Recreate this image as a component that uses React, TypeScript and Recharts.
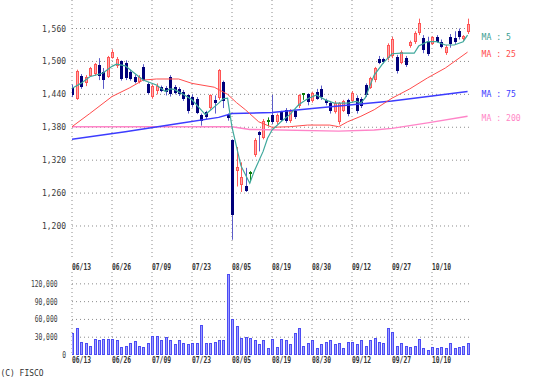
// Daily candles with moving averages (5/25/75/200) and a volume panel underneath.

import { Bar, CartesianGrid, ComposedChart, Line, XAxis, YAxis } from "recharts";

const DATES = ["06/13", "06/26", "07/09", "07/23", "08/05", "08/19", "08/30", "09/12", "09/27", "10/10"];
const DATE_IDX = [0, 9, 18, 27, 36, 45, 54, 63, 72, 81];

const OPEN = [
  1452, 1432, 1474, 1461, 1474, 1477, 1493, 1480, 1472, 1507,
  1491, 1500, 1498, 1481, 1472, 1462, 1490, 1459, 1436, 1446,
  1453, 1452, 1472, 1454, 1450, 1444, 1438, 1436, 1432, 1402,
  1408, 1416, 1430, 1434, 1462, 1403, 1357, 1300, 1275, 1272,
  1296, 1330, 1372, 1360, 1392, 1402, 1390, 1408, 1412, 1392,
  1410, 1418, 1440, 1440, 1428, 1445, 1450, 1430, 1424, 1408,
  1390, 1410, 1430, 1428, 1434, 1432, 1457, 1452, 1466, 1505,
  1504, 1506, 1510, 1508, 1498, 1506, 1528, 1535, 1552, 1542,
  1538, 1532, 1545, 1536, 1516, 1544, 1542, 1556, 1540, 1554,
];
const HIGH = [
  1458, 1485, 1477, 1475, 1490, 1497, 1506, 1488, 1510, 1522,
  1508, 1502, 1502, 1485, 1476, 1475, 1495, 1462, 1458, 1460,
  1456, 1455, 1475, 1457, 1453, 1448, 1440, 1440, 1435, 1405,
  1410, 1440, 1438, 1486, 1465, 1405, 1358, 1344, 1316, 1306,
  1300, 1360, 1373, 1395, 1398, 1439, 1405, 1410, 1415, 1413,
  1412, 1440, 1442, 1442, 1445, 1450, 1456, 1432, 1428, 1428,
  1426, 1430, 1432, 1446, 1438, 1435, 1460, 1472, 1490, 1510,
  1507, 1533, 1545, 1512, 1520, 1510, 1538, 1555, 1578, 1548,
  1545, 1546, 1548, 1540, 1530, 1550, 1555, 1560, 1548, 1578,
];
const LOW = [
  1435, 1430, 1450, 1455, 1472, 1474, 1466, 1450, 1470, 1505,
  1488, 1465, 1466, 1465, 1460, 1460, 1464, 1440, 1432, 1440,
  1444, 1438, 1436, 1440, 1437, 1428, 1405, 1416, 1404, 1383,
  1395, 1412, 1405, 1430, 1415, 1392, 1175, 1272, 1262, 1262,
  1280, 1326, 1336, 1358, 1382, 1386, 1385, 1390, 1388, 1388,
  1395, 1415, 1430, 1420, 1425, 1430, 1430, 1420, 1405, 1405,
  1385, 1408, 1400, 1425, 1405, 1415, 1435, 1450, 1462, 1495,
  1496, 1502, 1506, 1478, 1495, 1490, 1525, 1532, 1548, 1515,
  1510, 1530, 1534, 1524, 1512, 1525, 1532, 1540, 1538, 1550,
];
const CLOSE = [
  1438, 1483, 1454, 1472, 1488, 1495, 1474, 1466, 1508, 1518,
  1505, 1468, 1470, 1468, 1462, 1472, 1466, 1443, 1456, 1455,
  1446, 1444, 1440, 1443, 1440, 1432, 1410, 1420, 1406, 1391,
  1398, 1438, 1425, 1484, 1428, 1397, 1220, 1308, 1290, 1263,
  1296, 1356, 1366, 1392, 1392, 1390, 1402, 1394, 1392, 1410,
  1398, 1438, 1440, 1426, 1442, 1432, 1436, 1425, 1410, 1425,
  1424, 1428, 1405, 1443, 1410, 1418, 1438, 1470, 1488, 1498,
  1499, 1530, 1540, 1482, 1518, 1494, 1536, 1552, 1570, 1520,
  1514, 1544, 1536, 1526, 1527, 1532, 1535, 1544, 1546, 1568,
];
// thousand shares
const VOLUME = [
  37, 45, 22, 21, 15, 27, 26, 27, 27, 27,
  26, 14, 15, 20, 23, 15, 13, 21, 32, 32,
  26, 31, 26, 18, 25, 20, 19, 21, 21, 50,
  20, 21, 22, 26, 26, 136, 61, 49, 29, 30,
  29, 25, 18, 26, 12, 27, 14, 27, 26, 18,
  37, 45, 15, 21, 26, 12, 19, 22, 26, 18,
  21, 12, 22, 22, 18, 25, 15, 26, 28, 22,
  20, 45, 39, 16, 21, 16, 14, 16, 27, 11,
  9, 13, 11, 13, 11, 20, 11, 14, 15, 21,
];

// moving averages as [day, price]
const MA5 = [
  [0, 1451], [2, 1460], [4, 1472], [7, 1479], [9, 1491], [10, 1495], [12, 1492], [14, 1479],
  [16, 1466], [19, 1457], [21, 1445], [22, 1450], [23, 1449], [25, 1440], [27, 1430], [29, 1412],
  [30, 1403], [31, 1410], [33, 1424], [34, 1432], [35, 1433], [36, 1380], [37, 1345], [38, 1310],
  [40, 1278], [41, 1300], [43, 1336], [44, 1360], [45, 1375], [47, 1390], [49, 1403], [51, 1421],
  [53, 1432], [55, 1439], [57, 1430], [59, 1424], [62, 1424], [64, 1427], [65, 1424], [66, 1434],
  [67, 1455], [68, 1475], [70, 1497], [72, 1514], [74, 1515], [77, 1515], [78, 1528], [80, 1536],
  [82, 1536], [84, 1530], [86, 1530], [88, 1536], [89, 1548],
];
const MA25 = [
  [0, 1381], [4, 1405], [9, 1436], [13, 1452], [16, 1466], [19, 1468], [24, 1468], [27, 1460],
  [32, 1453], [35, 1440], [37, 1425], [39, 1412], [42, 1390], [45, 1380], [49, 1381], [53, 1384],
  [58, 1384], [60, 1381], [62, 1390], [65, 1400], [68, 1412], [72, 1433], [76, 1450], [80, 1470],
  [84, 1488], [89, 1517],
];
const MA75 = [
  [0, 1358], [12, 1372], [24, 1387], [33, 1398], [36, 1405], [45, 1407], [54, 1414], [63, 1421],
  [72, 1428], [81, 1437], [89, 1445],
];
const MA200 = [
  [0, 1381], [36, 1381], [40, 1376], [60, 1373], [68, 1375], [72, 1378], [80, 1388], [89, 1400],
];

const PRICE_TICKS = [1200, 1260, 1320, 1380, 1440, 1500, 1560];
const VOLUME_TICKS = [0, 30000, 60000, 90000, 120000];

const candles = OPEN.map((o, i) => ({
  i,
  open: o,
  high: HIGH[i],
  low: LOW[i],
  close: CLOSE[i],
}));
const volumes = VOLUME.map((v, i) => ({ i, vol: v * 1000 }));
const toPts = (arr: number[][]) => arr.map(([i, v]) => ({ i, v }));

const mono = "'DejaVu Sans Mono', 'Liberation Mono', monospace";
const gridStroke = "#8c8c8c";
const last = (arr: number[][]) => arr.length - 1;

function Candle(props: any) {
  const { x, y, width, height, payload } = props;
  const { open, close, high, low } = payload;
  const top = Math.min(y, y + height);
  const h = Math.abs(height);
  const span = high - low || 1;
  const py = (v: number) => top + ((high - v) / span) * h;
  const cx = Math.round(x + width / 2);
  const bTop = Math.round(py(Math.max(open, close)));
  const bBot = Math.max(Math.round(py(Math.min(open, close))), bTop + 1);
  if (open === close) {
    return (
      <g>
        <rect x={cx} y={top} width={1} height={h} fill="#118811" />
        <rect x={cx - 1} y={bTop - 1} width={3} height={2} fill="#0a7a0a" />
      </g>
    );
  }
  if (close > open) {
    return (
      <g>
        <rect x={cx} y={top} width={1} height={h} fill="#ff5a5a" />
        <rect x={cx - 1} y={bTop} width={3} height={bBot - bTop} fill="#ff5454" />
        {bBot - bTop > 2 && <rect x={cx} y={bTop + 1} width={1} height={bBot - bTop - 2} fill="#ffa8a8" />}
      </g>
    );
  }
  return (
    <g>
      <rect x={cx} y={top} width={1} height={h} fill="#5c5cc8" />
      <rect x={cx - 1} y={bTop} width={3} height={bBot - bTop} fill="#00007a" />
    </g>
  );
}

function VolBar(props: any) {
  const { x, y, width, height } = props;
  if (!height) return null;
  const cx = Math.round(x + width / 2);
  const top = Math.round(y);
  const bottom = Math.round(y + height);
  return (
    <rect x={cx - 0.5} y={top + 0.5} width={2} height={bottom - top - 0.5}
          fill="#9c9cff" stroke="#4c4cf4" strokeWidth={1} />
  );
}

const maLabel = (text: string, color: string, lastIndex: number) => (p: any) =>
  p.index === lastIndex ? (
    <text x={p.x + 14} y={p.y + 5} fill={color} fontSize={8.5} fontFamily={mono}
          textLength={text.length * 4.9} lengthAdjust="spacingAndGlyphs">
      {text}
    </text>
  ) : null;

const PriceTick = ({ y, payload }: any) => (
  <text x={66} y={y + 3} textAnchor="end" fontSize={9} fontFamily={mono} fill="#3a3a3a"
        textLength={24} lengthAdjust="spacingAndGlyphs">
    {payload.value.toLocaleString("en-US")}
  </text>
);

const VolTick = ({ y, payload }: any) => (
  <text x={payload.value === 0 ? 66 : 57.5} y={y + 3} textAnchor="end" fontSize={8.5} fontFamily={mono}
        fill="#3a3a3a" textLength={payload.value === 0 ? 3.8 : String(payload.value.toLocaleString("en-US")).length * 3.8}
        lengthAdjust="spacingAndGlyphs">
    {payload.value.toLocaleString("en-US")}
  </text>
);

const dateTick = (baseY: number) => ({ x, payload }: any) => (
  <text x={x} y={baseY} fontSize={8} fontFamily={mono} fill="#333" fontWeight="bold"
        textLength={19} lengthAdjust="spacingAndGlyphs">
    {DATES[DATE_IDX.indexOf(payload.value)]}
  </text>
);

export default function App() {
  return (
    <div style={{ position: "fixed", left: 0, top: 0, width: 538, height: 385, background: "#fff" }}>
      <div style={{ position: "absolute", left: 0, top: 0 }}>
        <ComposedChart width={538} height={272} data={candles}
                       margin={{ top: 0, right: 66, bottom: 0, left: 0 }}>
          <CartesianGrid stroke={gridStroke} strokeDasharray="1 3"
                         horizontalValues={PRICE_TICKS} verticalValues={DATE_IDX} />
          <XAxis dataKey="i" type="number" domain={[0, 90]} ticks={DATE_IDX} allowDataOverflow
                 axisLine={false} tickLine={false} height={12} tick={dateTick(270)} interval={0} />
          <YAxis type="number" domain={[1138, 1612]} ticks={PRICE_TICKS} allowDataOverflow
                 axisLine={false} tickLine={false} width={72} tick={<PriceTick />} interval={0} />
          <Line data={toPts(MA200)} dataKey="v" stroke="#ff84c8" strokeWidth={1.4} dot={false}
                isAnimationActive={false} label={maLabel("MA : 200", "#ff86c6", last(MA200))} />
          <Line data={toPts(MA75)} dataKey="v" stroke="#3c3cff" strokeWidth={1.5} dot={false}
                isAnimationActive={false} label={maLabel("MA : 75", "#3c3cff", last(MA75))} />
          <Line data={toPts(MA25)} dataKey="v" stroke="#ff4c4c" strokeWidth={1} dot={false}
                isAnimationActive={false} label={maLabel("MA : 25", "#ff4c4c", last(MA25))} />
          <Line data={toPts(MA5)} dataKey="v" stroke="#3fa89c" strokeWidth={1.2} dot={false}
                isAnimationActive={false} label={maLabel("MA : 5", "#3a9e92", last(MA5))} />
          <Bar dataKey={(d: any) => [d.low, d.high]} barSize={3} shape={<Candle />}
               isAnimationActive={false} />
        </ComposedChart>
      </div>
      <div style={{ position: "absolute", left: 0, top: 262 }}>
        <ComposedChart width={538} height={110} data={volumes}
                       margin={{ top: 10, right: 66, bottom: 0, left: 0 }}>
          <CartesianGrid stroke={gridStroke} strokeDasharray="1 3"
                         horizontalValues={VOLUME_TICKS.slice(1)} verticalValues={DATE_IDX} />
          <XAxis dataKey="i" type="number" domain={[0, 90]} ticks={DATE_IDX} allowDataOverflow
                 axisLine={false} tickLine={false} height={17} tick={dateTick(101)} interval={0} />
          <YAxis type="number" domain={[0, 140000]} ticks={VOLUME_TICKS} allowDataOverflow
                 axisLine={false} tickLine={false} width={72} tick={<VolTick />} interval={0} />
          <Bar dataKey="vol" barSize={3} shape={<VolBar />} isAnimationActive={false} />
        </ComposedChart>
      </div>
      <svg width={60} height={14} style={{ position: "absolute", left: 0, top: 366 }}>
        <text x={0.5} y={10} fontSize={8.5} fontFamily={mono} fill="#333"
              textLength={43} lengthAdjust="spacingAndGlyphs">
          (C) FISCO
        </text>
      </svg>
    </div>
  );
}
